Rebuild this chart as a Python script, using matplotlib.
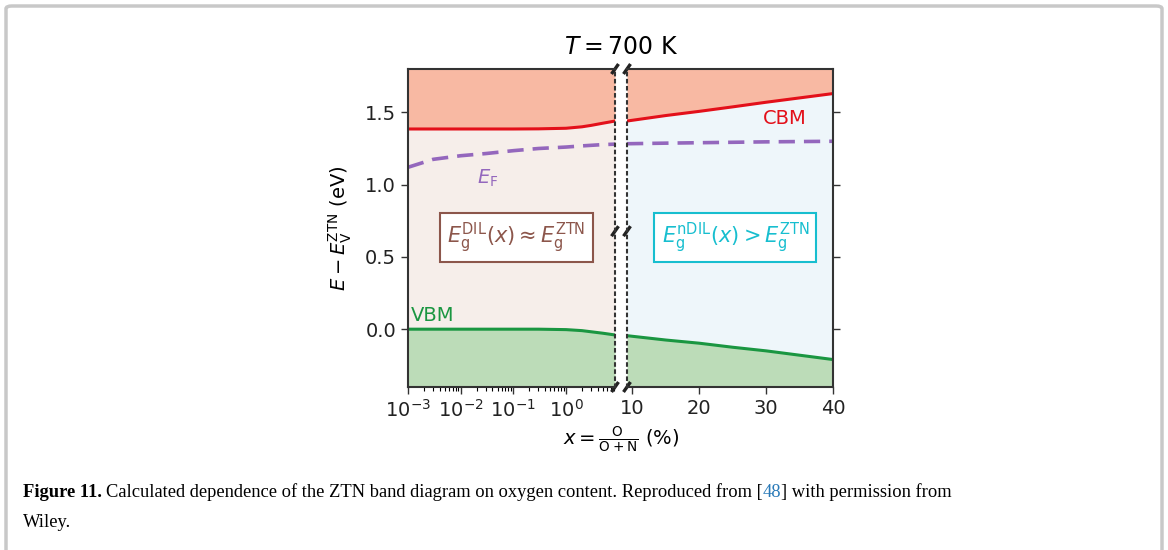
import matplotlib
matplotlib.use("Agg")
import matplotlib.pyplot as plt
import matplotlib.transforms as mtransforms
import numpy as np
from matplotlib.patches import FancyBboxPatch

# data
left_x = [0.001, 0.003, 0.01, 0.03, 0.1, 0.3, 1.0, 2.0, 3.0, 5.0, 8.5]
cbm_left = [1.385, 1.385, 1.385, 1.385, 1.385, 1.386, 1.39, 1.40, 1.41, 1.425, 1.44]
ef_left = [1.12, 1.175, 1.20, 1.215, 1.235, 1.25, 1.26, 1.268, 1.272, 1.277, 1.28]
vbm_left = [0.0, 0.0, 0.0, 0.0, 0.0, 0.0, -0.003, -0.01, -0.018, -0.028, -0.04]

right_x = [9.2, 15, 20, 25, 30, 35, 40]
cbm_right = [1.44, 1.478, 1.507, 1.538, 1.57, 1.60, 1.63]
ef_right = [1.283, 1.287, 1.29, 1.293, 1.296, 1.298, 1.30]
vbm_right = [-0.045, -0.075, -0.097, -0.125, -0.15, -0.18, -0.21]

left_ticks = [1e-3, 1e-2, 1e-1, 1e0]
left_ticklabels = ['$10^{-3}$', '$10^{-2}$', '$10^{-1}$', '$10^{0}$']
right_ticks = [10, 20, 30, 40]
y_ticks = [0.0, 0.5, 1.0, 1.5]

ylo, yhi = -0.4, 1.8
c_top = '#f8b9a3'
c_mid_l = '#f6eeea'
c_mid_r = '#eef6fa'
c_bot = '#bcdcb8'
c_cbm = '#e3101a'
c_vbm = '#1a9641'
c_ef = '#9467bd'

plt.rcParams['font.family'] = 'DejaVu Sans'
plt.rcParams['mathtext.fontset'] = 'dejavusans'

fig = plt.figure(figsize=(11.68, 5.5), dpi=100)

# border of the figure box
fig.add_artist(FancyBboxPatch((6 / 1168, -0.05), 1156 / 1168, 1.05 - 6 / 550,
                              boxstyle='round,pad=0,rounding_size=0.005',
                              transform=fig.transFigure, fill=False,
                              edgecolor='#c8c8c8', linewidth=2.5))

ax1 = fig.add_axes([408 / 1168, 1 - 387 / 550, 207 / 1168, 318 / 550])
ax2 = fig.add_axes([627 / 1168, 1 - 387 / 550, 206 / 1168, 318 / 550])

# left panel (log)
ax1.fill_between(left_x, cbm_left, yhi, color=c_top, lw=0)
ax1.fill_between(left_x, vbm_left, cbm_left, color=c_mid_l, lw=0)
ax1.fill_between(left_x, ylo, vbm_left, color=c_bot, lw=0)
ax1.plot(left_x, cbm_left, color=c_cbm, lw=2.2)
ax1.plot(left_x, vbm_left, color=c_vbm, lw=2.2)
ax1.plot(left_x, ef_left, color=c_ef, lw=2.6, dashes=(4.5, 2.5))
ax1.set_xscale('log')
ax1.set_xlim(1e-3, 8.5)
ax1.set_ylim(ylo, yhi)
ax1.set_xticks(left_ticks)
ax1.set_xticklabels(left_ticklabels)
ax1.set_yticks(y_ticks)
ax1.tick_params(labelsize=14, length=5, width=1)
ax1.tick_params(which='minor', length=3, width=0.8)
ax1.spines['right'].set_linestyle((0, (1.2, 2.2)))

# right panel (linear)
ax2.fill_between(right_x, cbm_right, yhi, color=c_top, lw=0)
ax2.fill_between(right_x, vbm_right, cbm_right, color=c_mid_r, lw=0)
ax2.fill_between(right_x, ylo, vbm_right, color=c_bot, lw=0)
ax2.plot(right_x, cbm_right, color=c_cbm, lw=2.2)
ax2.plot(right_x, vbm_right, color=c_vbm, lw=2.2)
ax2.plot(right_x, ef_right, color=c_ef, lw=2.6, dashes=(4.5, 2.5))
ax2.set_xlim(9.2, 40)
ax2.set_ylim(ylo, yhi)
ax2.set_xticks(right_ticks)
ax2.set_yticks(y_ticks)
ax2.yaxis.tick_right()
ax2.tick_params(labelright=False, labelsize=14, length=5, width=1)
ax2.spines['left'].set_linestyle((0, (1.2, 2.2)))

for ax in (ax1, ax2):
    for name, s in ax.spines.items():
        s.set_color('#333333')
        if s.get_linestyle() == '-':
            s.set_linewidth(1.1)
        else:
            s.set_linewidth(1.5)
    ax.tick_params(colors='#333333', labelcolor='#222222')

# labels inside
ax2.text(32.8, 1.455, 'CBM', color=c_cbm, fontsize=14, ha='center', va='center')
ax1.text(0.032, 1.045, r'$E_\mathrm{F}$', color=c_ef, fontsize=14, ha='center', va='center')
ax1.text(0.00115, 0.095, 'VBM', color=c_vbm, fontsize=14, ha='left', va='center')
ax1.text(0.115, 0.634, r'$E_\mathrm{g}^\mathrm{DIL}(x) \approx E_\mathrm{g}^\mathrm{ZTN}$',
         color='#8c564b', fontsize=15, ha='center', va='center',
         bbox=dict(boxstyle='square,pad=0.35', fc='white', ec='#8c564b', lw=1.5))
ax2.text(25.4, 0.634, r'$E_\mathrm{g}^\mathrm{nDIL}(x) > E_\mathrm{g}^\mathrm{ZTN}$',
         color='#17becf', fontsize=15, ha='center', va='center',
         bbox=dict(boxstyle='square,pad=0.35', fc='white', ec='#17becf', lw=1.5))

# break marks "//" at the gap (sized in inches so they slant evenly)
for yy in (0.0, 1.0, 0.49):
    for ax, xx in ((ax1, 1.0), (ax2, 0.0)):
        off = mtransforms.ScaledTranslation(xx, yy, ax.transAxes)
        tr = fig.dpi_scale_trans + off
        ax.plot([-0.035, 0.035], [-0.05, 0.05], transform=tr, color='#222222',
                lw=2.4, clip_on=False, solid_capstyle='butt')

ax1.set_ylabel(r'$E - E_\mathrm{V}^\mathrm{ZTN}$ (eV)', fontsize=14, labelpad=8)
fig.text(621 / 1168, 1 - 47 / 550, r'$T = 700$ K', fontsize=17, ha='center', va='center')
fig.text(621 / 1168, 1 - 440 / 550, r'$x = \frac{\mathrm{O}}{\mathrm{O+N}}$ (%)',
         fontsize=14, ha='center', va='center')

# caption
cap_kw = dict(fontsize=13.3, family='Liberation Serif', va='baseline')
t1 = fig.text(23 / 1168, 1 - 497 / 550, 'Figure 11.', weight='bold', **cap_kw)
fig.canvas.draw()
bb = t1.get_window_extent()
x0 = (bb.x1 + 4) / 1168
t2 = fig.text(x0, 1 - 497 / 550,
              'Calculated dependence of the ZTN band diagram on oxygen content. Reproduced from [',
              **cap_kw)
bb = t2.get_window_extent()
t3 = fig.text(bb.x1 / 1168, 1 - 497 / 550, '48', color='#2a7ab8', **cap_kw)
bb = t3.get_window_extent()
fig.text(bb.x1 / 1168, 1 - 497 / 550, '] with permission from', **cap_kw)
fig.text(23 / 1168, 1 - 527 / 550, 'Wiley.', **cap_kw)

fig.savefig('out.png', dpi=100)
